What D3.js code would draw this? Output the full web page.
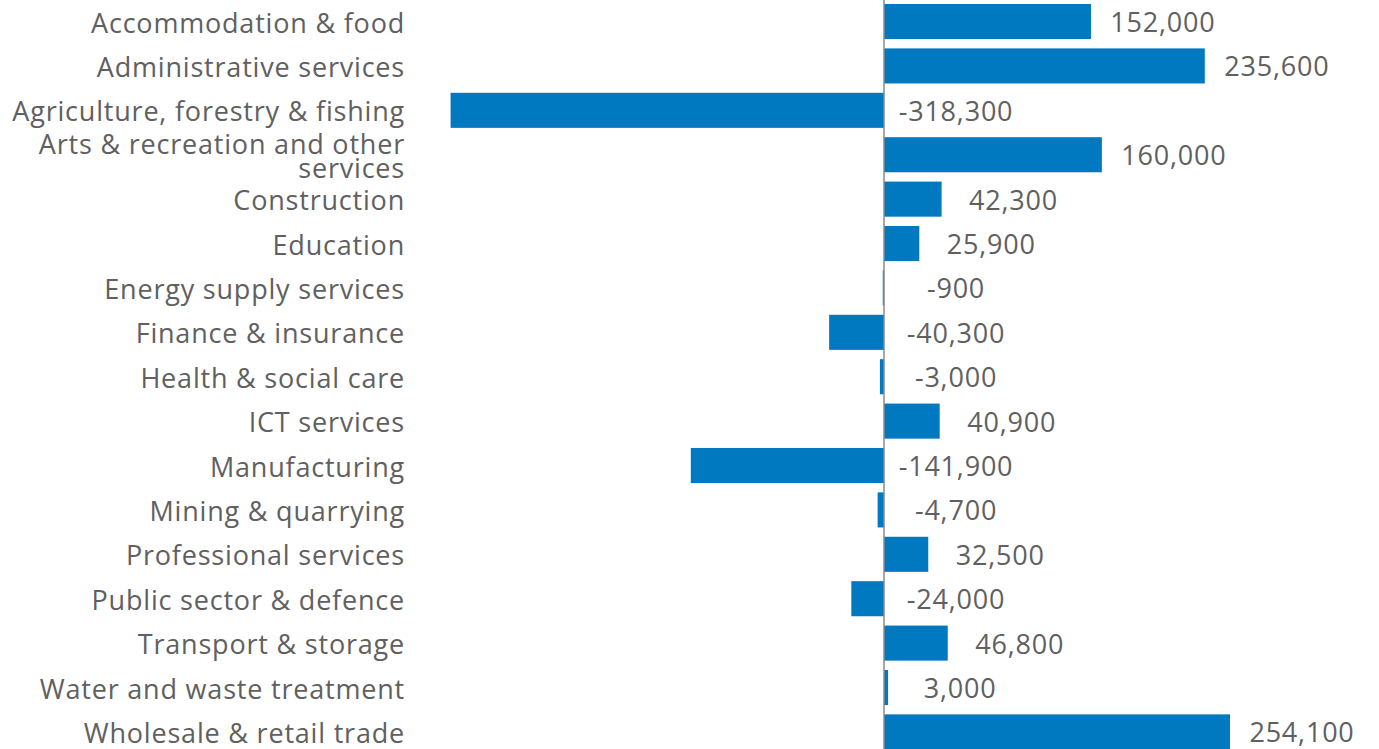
<!DOCTYPE html>
<html>
<head>
<meta charset="utf-8">
<script src="https://cdn.jsdelivr.net/npm/d3@7"></script>
<style>
  html, body { margin: 0; padding: 0; background: #fff; }
  svg { display: block; }
  text { font-family: "Open Sans", sans-serif; fill: #606060; font-size: 27px; letter-spacing: 0.8px; }
</style>
</head>
<body>
<div id="container"><svg></svg></div>
<script>
const _width = 1379;
const _height = 749;

const categories = [
    'Accommodation & food',
    'Administrative services',
    'Agriculture, forestry & fishing',
    'Arts & recreation and other|services',
    'Construction',
    'Education',
    'Energy supply services',
    'Finance & insurance',
    'Health & social care',
    'ICT services',
    'Manufacturing',
    'Mining & quarrying',
    'Professional services',
    'Public sector & defence',
    'Transport & storage',
    'Water and waste treatment',
    'Wholesale & retail trade'
];

const values = [152000, 235600, -318300, 160000, 42300, 25900, -900, -40300, -3000,
    40900, -141900, -4700, 32500, -24000, 46800, 3000, 254100];

const BAR_COLOR = '#0079c1';
const ZERO_LINE_COLOR = '#8a8a8a';
const LABEL_RIGHT = 405;

let svg = d3.select('#container').select('svg')
    .attr('width', _width)
    .attr('height', _height);

let x = d3.scaleLinear()
    .domain([d3.min(values), d3.max(values)])
    .range([450.6, 1230]);

let y = d3.scaleBand()
    .domain(d3.range(categories.length))
    .range([-0.66, 754.1])
    .paddingInner(0.21)
    .paddingOuter(0.105);

// bars
svg.append('g').selectAll('rect')
    .data(values)
    .enter().append('rect')
    .attr('x', d => x(Math.min(0, d)))
    .attr('width', d => Math.abs(x(d) - x(0)))
    .attr('y', (d, i) => y(i))
    .attr('height', y.bandwidth())
    .attr('fill', BAR_COLOR);

// zero line
svg.append('line')
    .attr('x1', x(0)).attr('x2', x(0))
    .attr('y1', 0).attr('y2', _height)
    .attr('stroke', ZERO_LINE_COLOR)
    .attr('stroke-width', 1.5);

// value labels
const fmt = d => d3.format(',')(d).replace('\u2212', '-');
svg.append('g').selectAll('text')
    .data(values)
    .enter().append('text')
    .attr('text-anchor', 'middle')
    .attr('dominant-baseline', 'central')
    .attr('x', d => x(Math.max(0, d)) + 72)
    .attr('y', (d, i) => y(i) + y.bandwidth() / 2)
    .text(fmt);

// category labels
let cat = svg.append('g').selectAll('text')
    .data(categories)
    .enter().append('text')
    .attr('text-anchor', 'end')
    .attr('dominant-baseline', 'central')
    .attr('x', LABEL_RIGHT)
    .attr('y', (d, i) => y(i) + y.bandwidth() / 2);

cat.each(function(d) {
    let lines = d.split('|');
    let t = d3.select(this);
    lines.forEach((line, j) => {
        t.append('tspan')
            .attr('x', LABEL_RIGHT)
            .attr('dy', j === 0 ? (-(lines.length - 1) * 12) + 'px' : '24px')
            .text(line);
    });
});
</script>
</body>
</html>
